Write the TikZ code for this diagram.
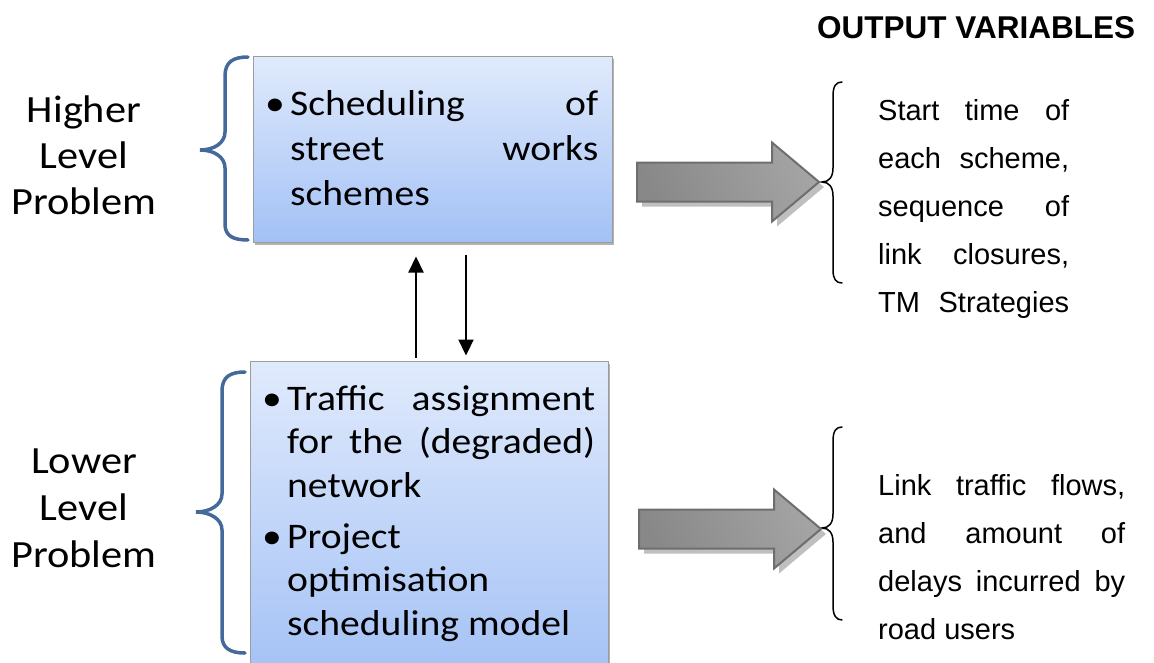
\documentclass[tikz,border=0pt]{standalone}
\usepackage{fontspec}
\setmainfont{Carlito}
\newfontfamily\boxfont{Carlito}[FakeStretch=1.1]
\newfontfamily\sansfont{Liberation Sans}
\usetikzlibrary{shadows,arrows.meta,calc}

\definecolor{braceblue}{HTML}{44699B}
\definecolor{boxtop}{HTML}{E0EAFC}
\definecolor{boxbot}{HTML}{A3C1F5}
\definecolor{boxline}{HTML}{9C9C9C}
\definecolor{arrline}{HTML}{6E6E6E}
\definecolor{arrdark}{HTML}{888888}
\definecolor{arrlight}{HTML}{CDCDCD}
\definecolor{arrmid}{HTML}{A4A4A4}

% centred / spread lines stacked on a fixed baseline distance
\newcommand\stacklines[2]{\vtop{\baselineskip=#1\relax #2}}
\newcommand\ctrline[1]{\hbox to 0pt{\hss #1\hss}}
\newcommand\spreadline[2]{\hbox to #1{#2}}
\newcommand\plainline[1]{\hbox{#1}}

\tikzset{
  levelbox/.style={draw=boxline, line width=1pt, top color=boxtop,
    bottom color=boxbot, inner sep=0pt,
    drop shadow={shadow xshift=2pt, shadow yshift=-3pt, opacity=0.3, fill=black}},
  boxtext/.style={font=\boxfont\fontsize{36}{44}\selectfont, inner sep=0pt},
  labeltext/.style={font=\boxfont\fontsize{38.5}{46}\selectfont, inner sep=0pt},
  sidetext/.style={font=\sansfont\fontsize{29}{48}\selectfont, inner sep=0pt},
  headtext/.style={font=\sansfont\bfseries\fontsize{31.5}{38}\selectfont, inner sep=0pt},
  lbrace/.style={draw=braceblue, line width=3.5pt, line cap=round},
  rbrace/.style={draw=black, line width=1.5pt, line cap=round},
  vlink/.style={line width=2.2pt, -{Triangle[length=16pt,width=15pt]}},
  blockarr/.style={draw=arrline, line width=2pt, line join=miter,
    left color=arrdark, middle color=arrlight, right color=arrmid, shading angle=112,
    drop shadow={shadow xshift=5pt, shadow yshift=-5pt, opacity=1, fill=black!25}},
  blockarrow/.pic={
    \path[blockarr] (0,0) -- (-47,-39.5) -- (-47,-19.5) -- (-182,-19.5)
      -- (-182,19.5) -- (-47,19.5) -- (-47,39.5) -- cycle;
  }
}

\begin{document}
\begin{tikzpicture}[x=1pt, y=-1pt]
\useasboundingbox (0,0) rectangle (1154,662);

% problem boxes
\node[levelbox, minimum width=359pt, minimum height=186pt] (hi) at (432.5,149) {};
\node[levelbox, minimum width=358pt, minimum height=320pt] (lo) at (429,521) {};

% box contents
\node[boxtext, anchor=base] (bhi) at (275,115) {•};
\node[boxtext, anchor=base west] (thi) at (290,115)
  {\stacklines{45pt}{\spreadline{308pt}{Scheduling\hfill of}\spreadline{308pt}{street\hfill works}\plainline{schemes}}};
\node[boxtext, anchor=base] (blo1) at (272,410) {•};
\node[boxtext, anchor=base west] (tlo1) at (287,410)
  {\stacklines{43.5pt}{\spreadline{308pt}{Traffic\hfill assignment}\spreadline{308pt}{for\hfill the\hfill (degraded)}\plainline{network}}};
\node[boxtext, anchor=base] (blo2) at (272,548) {•};
\node[boxtext, anchor=base west] (tlo2) at (287,548)
  {\stacklines{43.5pt}{\plainline{Project}\plainline{optimisation}\plainline{scheduling model}}};

% level labels
\node[labeltext, anchor=base] (lhi) at (84,122) {\stacklines{46pt}{\ctrline{Higher}\ctrline{Level}\ctrline{Problem}}};
\node[labeltext, anchor=base] (llo) at (84,473) {\stacklines{47pt}{\ctrline{Lower}\ctrline{Level}\ctrline{Problem}}};

% blue braces grouping each box
\path[lbrace] (248,57) .. controls (233,57) and (225,62) .. (225,76) -- (225,132)
  .. controls (225,143) and (214,150) .. (200,150)
  .. controls (214,150) and (225,157) .. (225,168) -- (225,224)
  .. controls (225,236) and (233,240) .. (248,240);
\path[lbrace] (245,372) .. controls (230,372) and (222,377) .. (222,391) -- (222,494)
  .. controls (222,505) and (210,512) .. (196,512)
  .. controls (210,512) and (222,519) .. (222,530) -- (222,636)
  .. controls (222,648) and (230,653) .. (245,653);

% links between the two levels
\coordinate (upx) at (416,0);
\coordinate (dnx) at (466,0);
\draw[vlink, shorten <=3pt, shorten >=14pt] (upx |- lo.north) -- (upx |- hi.south);
\draw[vlink, shorten <=12pt, shorten >=5pt] (dnx |- hi.south) -- (dnx |- lo.north);

% output braces
\coordinate (tipA) at (822,182);
\coordinate (tipB) at (822,528);
\path[rbrace] (842,82) .. controls (836,82) and (833,86) .. (833,96) -- (833,168)
  .. controls (833,177) and (829,182) .. (tipA)
  .. controls (829,182) and (833,187) .. (833,196) -- (833,270)
  .. controls (833,279) and (836,283) .. (842,283);
\path[rbrace] (842,427) .. controls (836,427) and (833,431) .. (833,441) -- (833,514)
  .. controls (833,523) and (829,528) .. (tipB)
  .. controls (829,528) and (833,533) .. (833,542) -- (833,606)
  .. controls (833,615) and (836,620) .. (842,620);

% block arrows towards the outputs
\pic at ($(tipA)+(-3,0)$) {blockarrow};
\pic at ($(tipB)+(-1,1)$) {blockarrow};

% output variables
\node[headtext, anchor=base west] (head) at (817,38) {OUTPUT VARIABLES};
\node[sidetext, anchor=base west] (outhi) at (878,120)
  {\stacklines{48pt}{\spreadline{191pt}{Start\hfill time\hfill of}\spreadline{191pt}{each\hfill scheme,}%
   \spreadline{191pt}{sequence\hfill of}\spreadline{191pt}{link\hfill closures,}\spreadline{191pt}{TM\hfill Strategies}}};
\node[sidetext, anchor=base west] (outlo) at (878,495)
  {\stacklines{48pt}{\spreadline{247pt}{Link\hfill traffic\hfill flows,}\spreadline{247pt}{and\hfill amount\hfill of}%
   \spreadline{247pt}{delays\hfill incurred\hfill by}\plainline{road users}}};
\end{tikzpicture}
\end{document}
